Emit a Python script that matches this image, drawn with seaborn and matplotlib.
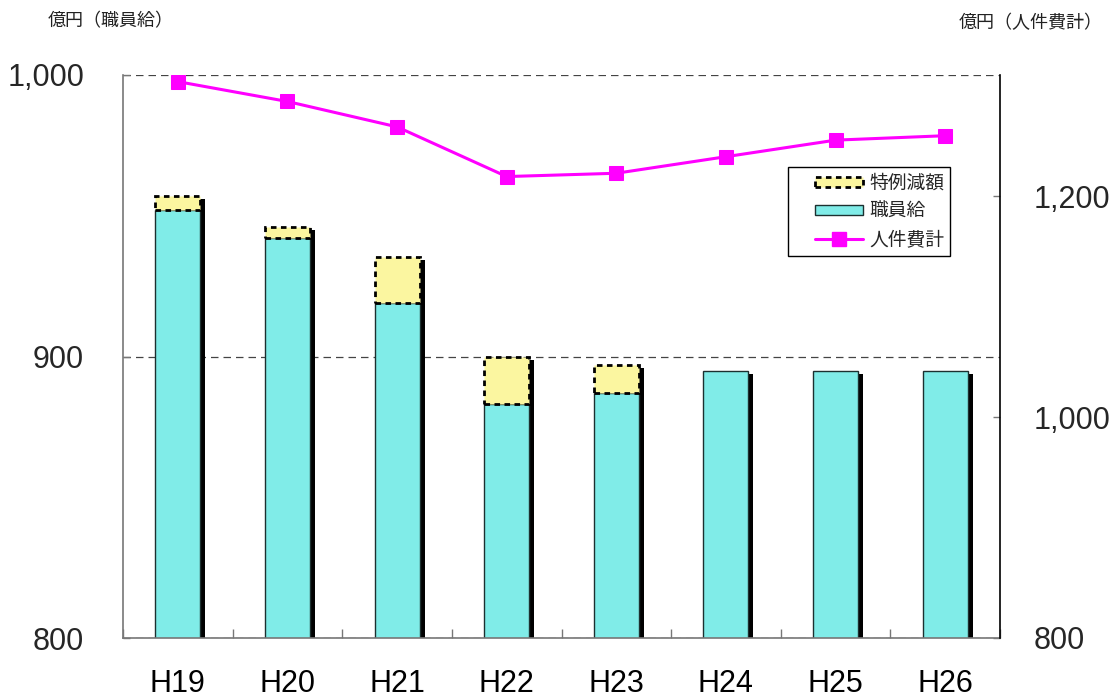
import numpy as np
import pandas as pd
import matplotlib
matplotlib.use("Agg")
import matplotlib.pyplot as plt
import matplotlib.transforms as mtransforms
from matplotlib.patches import Patch
from matplotlib.lines import Line2D
from matplotlib.legend_handler import HandlerPatch, HandlerLine2D
from matplotlib.ticker import FuncFormatter
import seaborn as sns

# ---- data ----
years = ["H19", "H20", "H21", "H22", "H23", "H24", "H25", "H26"]
salary = [952, 942, 919, 883, 887, 895, 895, 895]        # 職員給 (億円)
special_cut = [5, 4, 16.5, 17, 10, 0, 0, 0]              # 特例減額 (億円)
personnel_total = [1304, 1286, 1263, 1218, 1221, 1236, 1251, 1255]  # 人件費計 (億円)

left_ticks = [800, 900, 1000]
right_ticks = [800, 1000, 1200]

totals = [s + c for s, c in zip(salary, special_cut)]
df = pd.DataFrame({"year": years, "salary": salary, "cut": special_cut,
                   "total": totals, "personnel": personnel_total})

sns.set_theme(style="white")
plt.rcParams["font.family"] = ["Liberation Sans", "Noto Sans CJK JP", "DejaVu Sans"]
JP = ["Noto Sans CJK JP", "DejaVu Sans"]

CYAN = "#80ECE8"
YELLOW = "#FBF6A0"
MAGENTA = "#FF00FF"

fig = plt.figure(figsize=(11.13, 6.99), dpi=100)
ax = fig.add_axes([123 / 1113, 1 - 638 / 699, (1000 - 123) / 1113, (638 - 75) / 699])

# shadow bars
n_before = len(ax.patches)
sns.barplot(data=df, x="year", y="total", color="black", width=0.41,
            saturation=1, ax=ax, linewidth=0)
shift = mtransforms.ScaledTranslation(5 / 100, -3 / 100, fig.dpi_scale_trans)
for p in ax.patches[n_before:]:
    p.set_transform(ax.transData + shift)
    p.set_zorder(1)

# salary bars
n_before = len(ax.patches)
sns.barplot(data=df, x="year", y="salary", color=CYAN, width=0.41,
            saturation=1, ax=ax, edgecolor="#1c3030", linewidth=1.0)
for p in ax.patches[n_before:]:
    p.set_zorder(2)

# special reduction stacked on top
n_before = len(ax.patches)
sns.barplot(data=df, x="year", y="cut", color=YELLOW, width=0.41,
            saturation=1, ax=ax, edgecolor="black", linewidth=2.0,
            linestyle=(0, (2, 1.6)), bottom=df["salary"].to_numpy())
for p in ax.patches[n_before:]:
    p.set_zorder(3)
    if p.get_height() <= 0:
        p.set_visible(False)

ax.set_ylim(800, 1000)
ax.set_xlim(-0.5, len(years) - 0.5)
ax.set_yticks(left_ticks)
ax.yaxis.set_major_formatter(FuncFormatter(lambda v, _: f"{int(v):,}"))
ax.set_xlabel("")
ax.set_ylabel("")
ax.set_axisbelow(True)
ax.yaxis.grid(True, color="#444444", linestyle=(0, (6, 4)), linewidth=0.9)
ax.xaxis.grid(False)

ax.spines["top"].set_visible(False)
ax.spines["right"].set_visible(False)
ax.spines["left"].set_color("#777777")
ax.spines["bottom"].set_color("#777777")
ax.spines["left"].set_linewidth(1.2)
ax.spines["bottom"].set_linewidth(1.2)

ax.tick_params(axis="x", which="major", length=0, labelsize=22, pad=22, colors="black")
ax.set_xticks(np.arange(-0.5, len(years), 1), minor=True)
ax.tick_params(axis="x", which="minor", direction="in", length=6.5, width=1,
               color="#777777", bottom=True)
ax.tick_params(axis="y", which="major", direction="in", length=5, width=1,
               color="#777777", left=True, labelsize=22, pad=28)

# right axis: line
ax2 = ax.twinx()
sns.lineplot(data=df, x="year", y="personnel", color=MAGENTA, linewidth=2.2,
             marker="s", markersize=10, markeredgecolor=MAGENTA, ax=ax2,
             sort=False)
ax2.set_ylim(800, 1310)
ax2.set_yticks(right_ticks)
ax2.yaxis.set_major_formatter(FuncFormatter(lambda v, _: f"{int(v):,}"))
ax2.set_ylabel("")
ax2.set_xlabel("")
ax2.grid(False)
ax2.spines["top"].set_visible(False)
ax2.spines["left"].set_visible(False)
ax2.spines["bottom"].set_visible(False)
ax2.spines["right"].set_color("black")
ax2.spines["right"].set_linewidth(1.2)
ax2.tick_params(axis="y", direction="in", length=5, width=1, color="#777777",
                right=True, labelsize=22, pad=24)

# axis unit labels
fig.text(48 / 1113, 1 - 21 / 699, "億円（職員給）", fontsize=13, family=JP,
         ha="left", va="center", color="#222222")
fig.text(1103 / 1113, 1 - 23 / 699, "億円（人件費計）", fontsize=13, family=JP,
         ha="right", va="center", color="#222222")


# legend with handles inset from the left edge of the frame
class ShiftPatch(HandlerPatch):
    def create_artists(self, legend, orig_handle, xdescent, ydescent, width,
                       height, fontsize, trans):
        s = width * 0.31
        return super().create_artists(legend, orig_handle, xdescent - s, ydescent,
                                      width - s, height, fontsize, trans)


class ShiftLine(HandlerLine2D):
    def create_artists(self, legend, orig_handle, xdescent, ydescent, width,
                       height, fontsize, trans):
        s = width * 0.31
        return super().create_artists(legend, orig_handle, xdescent - s, ydescent,
                                      width - s, height, fontsize, trans)


h_cut = Patch(facecolor=YELLOW, edgecolor="black", linestyle=(0, (2, 1.6)), linewidth=2.0)
h_sal = Patch(facecolor=CYAN, edgecolor="#1c3030", linewidth=1.0)
h_line = Line2D([0], [0], color=MAGENTA, linewidth=2.2, marker="s", markersize=10)
labels = ["特例減額", "職員給", "人件費計"]
leg = ax2.legend([h_cut, h_sal, h_line], labels, loc="upper left",
                 bbox_to_anchor=((788 - 123) / 877, (638 - 167) / 563),
                 borderaxespad=0, frameon=True, fancybox=False, framealpha=1,
                 edgecolor="black", prop={"family": JP, "size": 13.5},
                 handlelength=3.7, handleheight=0.45, labelspacing=0.38,
                 borderpad=0.3, handletextpad=0.35,
                 handler_map={Patch: ShiftPatch(), Line2D: ShiftLine()})
leg.get_frame().set_linewidth(1.0)

fig.savefig("out.png", dpi=100)
